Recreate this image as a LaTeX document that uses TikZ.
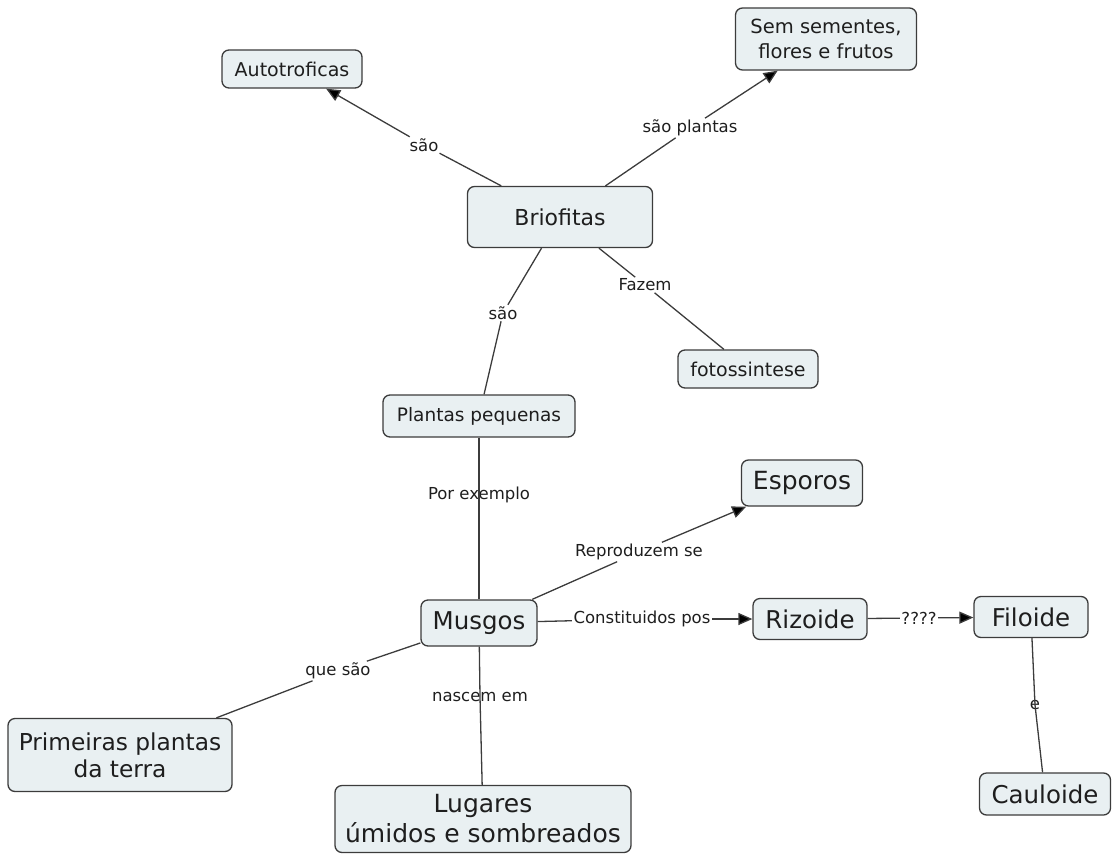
\documentclass[tikz,border=0pt]{standalone}
\usepackage{fontspec}
\setmainfont{DejaVu Sans}
\usetikzlibrary{arrows.meta}
\definecolor{boxfill}{HTML}{E9F0F2}
\definecolor{ink}{HTML}{1E1E1E}
\definecolor{edge}{HTML}{3C3C3C}
\begin{document}
\begin{tikzpicture}[x=1pt,y=-1pt,
  concept/.style={draw=edge, fill=boxfill, rounded corners=7pt, line width=1.3pt,
                  text=ink, align=center, inner sep=2pt},
  link/.style={text=ink, inner sep=1.5pt, font=\fontsize{16.5}{19}\selectfont},
  conn/.style={draw=edge, line width=1.3pt},
  arr/.style={conn, -{Triangle[length=14pt,width=12pt,fill=black]}}]
\useasboundingbox (0,0) rectangle (1118,859);

% concepts
\node[concept, minimum width=140pt, minimum height=38pt, font=\fontsize{19}{22}\selectfont] (auto) at (292,69) {Autotroficas};
\node[concept, minimum width=181pt, minimum height=62pt, font=\fontsize{19.5}{25}\selectfont] (sem) at (826,39) {Sem sementes,\\flores e frutos};
\node[concept, minimum width=185pt, minimum height=61pt, font=\fontsize{22}{25}\selectfont] (brio) at (560,217) {Briofitas};
\node[concept, minimum width=140pt, minimum height=38pt, font=\fontsize{19}{22}\selectfont] (foto) at (748,369) {fotossintese};
\node[concept, minimum width=192pt, minimum height=42pt, font=\fontsize{18.5}{21}\selectfont] (pp) at (479,416) {Plantas pequenas};
\node[concept, minimum width=121pt, minimum height=46pt, font=\fontsize{25}{28}\selectfont] (esp) at (802,483) {Esporos};
\node[concept, minimum width=116pt, minimum height=46pt, font=\fontsize{24.5}{28}\selectfont] (mus) at (479,623) {Musgos};
\node[concept, minimum width=114pt, minimum height=41pt, font=\fontsize{24.5}{28}\selectfont] (riz) at (810,619) {Rizoide};
\node[concept, minimum width=114pt, minimum height=41pt, font=\fontsize{24.5}{28}\selectfont] (fil) at (1031,617) {Filoide};
\node[concept, minimum width=131pt, minimum height=42pt, font=\fontsize{24.5}{28}\selectfont] (cau) at (1045,794) {Cauloide};
\node[concept, minimum width=224pt, minimum height=73pt, font=\fontsize{23.3}{27}\selectfont] (prim) at (120,755) {Primeiras plantas\\da terra};
\node[concept, minimum width=296pt, minimum height=67pt, font=\fontsize{25}{30}\selectfont] (lug) at (483,819) {Lugares\\úmidos e sombreados};

% linking phrases
\node[link] (l1) at (424,145) {são};
\node[link] (l2) at (690,128) {são plantas};
\node[link] (l3) at (503,313) {são};
\node[link] (l4) at (645,285) {Fazem};
\node[link] (l5) at (479,495) {Por exemplo};
\node[link] (l6) at (639,552) {Reproduzem se};
\node[link] (l7) at (642,619) {Constituidos pos};
\node[link] (l8) at (919,618) {????};
\node[link] (l9) at (338,671) {que são};
\node[link] (l10) at (480,697) {nascem em};
\node[link] (l11) at (1035,705) {e};

% connectors
\draw[conn] (brio) -- (l1);  \draw[arr] (l1) -- (auto);
\draw[conn] (brio) -- (l2);  \draw[arr] (l2) -- (sem);
\draw[conn] (brio) -- (l3);  \draw[conn] (l3) -- (pp);
\draw[conn] (brio) -- (l4);  \draw[conn] (l4) -- (foto);
\draw[conn] (pp) -- (l5.center) -- (mus);
\draw[conn] (mus) -- (l6);   \draw[arr] (l6) -- (esp);
\draw[conn] (mus) -- (l7);   \draw[arr] (l7) -- (riz);
\draw[conn] (riz) -- (l8);   \draw[arr] (l8) -- (fil);
\draw[conn] (mus) -- (l9);   \draw[conn] (l9) -- (prim);
\draw[conn] (mus) -- (l10.center) -- (lug);
\draw[conn] (fil) -- (l11.center) -- (cau);
\end{tikzpicture}
\end{document}
